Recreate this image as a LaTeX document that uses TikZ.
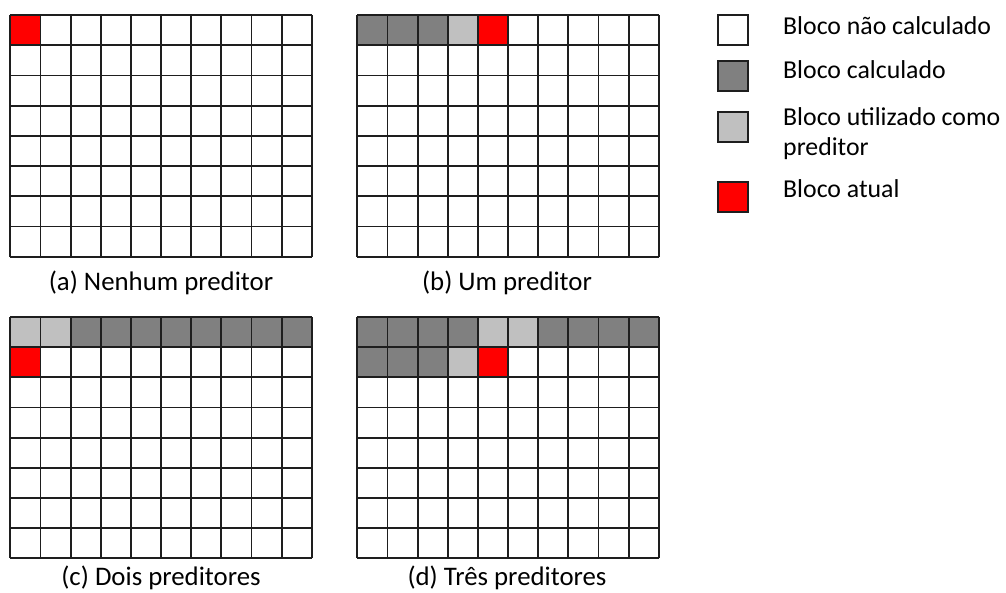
\documentclass[tikz,border=0pt]{standalone}
\usepackage{fontspec}
\setmainfont{Carlito}
\definecolor{calc}{RGB}{128,128,128}
\definecolor{pred}{RGB}{192,192,192}
\definecolor{atual}{RGB}{255,0,0}
\definecolor{linec}{RGB}{30,30,30}
\tikzset{
  gline/.style={draw=linec,line width=1.8pt},
  lbox/.style={draw=linec,line width=1.8pt},
  captxt/.style={font=\fontsize{26.8}{30}\selectfont,anchor=base,inner sep=0pt},
  legtxt/.style={font=\fontsize{25.8}{30}\selectfont,anchor=base west,inner sep=0pt},
}
\newcommand\bgrid{%
  \foreach \i in {0,...,10} {\draw[gline] (\i,0) -- (\i,8);}
  \foreach \j in {0,...,8} {\draw[gline] (0,\j) -- (10,\j);}
}
\newcommand\cellc[3]{\fill[#3] (#1,#2) rectangle ++(1,1);}
\begin{document}
\begin{tikzpicture}[x=1pt,y=-1pt]
\useasboundingbox (0,0) rectangle (1006,592);
% (a)
\begin{scope}[shift={(10.3,15)},x=30.15pt,y=-30.2pt]
  \cellc{0}{0}{atual}
  \bgrid
\end{scope}
% (b)
\begin{scope}[shift={(357.3,15)},x=30.15pt,y=-30.2pt]
  \foreach \c in {0,1,2} {\cellc{\c}{0}{calc}}
  \cellc{3}{0}{pred}
  \cellc{4}{0}{atual}
  \bgrid
\end{scope}
% (c)
\begin{scope}[shift={(10.3,317)},x=30.15pt,y=-30.15pt]
  \foreach \c in {0,1} {\cellc{\c}{0}{pred}}
  \foreach \c in {2,...,9} {\cellc{\c}{0}{calc}}
  \cellc{0}{1}{atual}
  \bgrid
\end{scope}
% (d)
\begin{scope}[shift={(357.3,317)},x=30.15pt,y=-30.15pt]
  \foreach \c in {0,...,3} {\cellc{\c}{0}{calc}}
  \foreach \c in {4,5} {\cellc{\c}{0}{pred}}
  \foreach \c in {6,...,9} {\cellc{\c}{0}{calc}}
  \foreach \c in {0,1,2} {\cellc{\c}{1}{calc}}
  \cellc{3}{1}{pred}
  \cellc{4}{1}{atual}
  \bgrid
\end{scope}
% captions
\node[captxt] (capa) at (161,290) {(a) Nenhum preditor};
\node[captxt] (capb) at (507,290) {(b) Um preditor};
\node[captxt] (capc) at (161,585) {(c) Dois preditores};
\node[captxt] (capd) at (507,585) {(d) Três preditores};
% legend
\filldraw[lbox,fill=white] (718.3,15) rectangle (748.3,45);
\filldraw[lbox,fill=calc] (718.3,60.7) rectangle (748.3,90.7);
\filldraw[lbox,fill=pred] (718.3,111.7) rectangle (748.3,141.7);
\filldraw[lbox,fill=atual] (718.3,181.7) rectangle (748.3,211.7);
\node[legtxt] (l1) at (783,34) {Bloco não calculado};
\node[legtxt] (l2) at (783,78) {Bloco calculado};
\node[legtxt] (l3) at (783,125) {Bloco utilizado como};
\node[legtxt] (l3b) at (783,155) {preditor};
\node[legtxt] (l4) at (783,197) {Bloco atual};
\end{tikzpicture}
\end{document}
